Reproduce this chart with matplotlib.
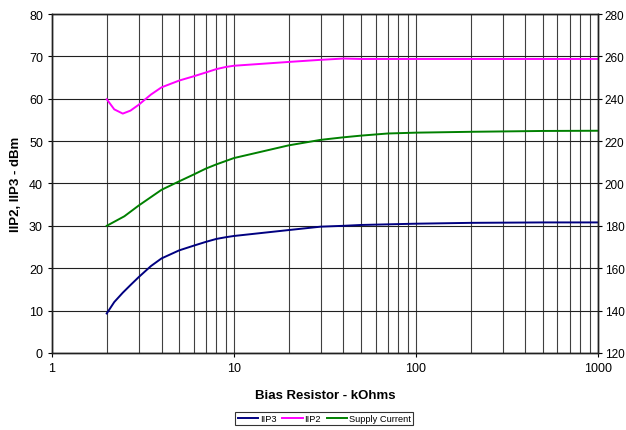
import numpy as np
import matplotlib.pyplot as plt
from matplotlib.ticker import FixedLocator, NullFormatter

plt.rcParams['font.family'] = ['Liberation Sans', 'DejaVu Sans']

# Bias resistor values (kOhms)
r_iip = [2, 2.2, 2.45, 2.7, 3, 3.5, 4, 5, 6, 7, 8, 9, 10, 20, 30, 40, 50, 100, 200, 500, 1000]
iip3 = [9.3, 12.0, 14.2, 16.0, 17.9, 20.5, 22.3, 24.2, 25.3, 26.2, 26.9, 27.3, 27.6, 29.0, 29.8, 30.0, 30.2, 30.5, 30.7, 30.8, 30.8]
iip2 = [59.9, 57.5, 56.5, 57.2, 58.6, 61.0, 62.7, 64.3, 65.3, 66.2, 67.0, 67.5, 67.8, 68.7, 69.2, 69.5, 69.4, 69.4, 69.4, 69.4, 69.4]

r_cur = [2, 2.5, 3, 4, 5, 6, 7, 8, 10, 20, 30, 40, 50, 70, 100, 200, 500, 1000]
supply_current = [180, 184.5, 189.6, 197, 201, 204.2, 207, 209, 212, 218, 220.6, 221.8, 222.6, 223.6, 224, 224.4, 224.8, 224.9]

x_ticks = [1, 10, 100, 1000]
left_ticks = np.arange(0, 81, 10)
right_ticks = np.arange(120, 281, 20)

fig = plt.figure(figsize=(6.26, 4.31), dpi=100)
ax = fig.add_subplot(111)
ax2 = ax.twinx()
fig.subplots_adjust(left=0.083, right=0.955, top=0.965, bottom=0.179)

l1, = ax.plot(r_iip, iip3, color='#000080', lw=1.4, label='IIP3')
l2, = ax.plot(r_iip, iip2, color='#FF00FF', lw=1.4, label='IIP2')
l3, = ax2.plot(r_cur, supply_current, color='#008000', lw=1.4, label='Supply Current')

ax.set_xscale('log')
ax.set_xlim(1, 1000)
ax.set_ylim(0, 80)
ax2.set_ylim(120, 280)

ax.xaxis.set_major_locator(FixedLocator(x_ticks))
ax.set_xticklabels(['1', '10', '100', '1000'])
minor = [m * 10 ** k for k in range(3) for m in range(2, 10)]
ax.xaxis.set_minor_locator(FixedLocator(minor))
ax.xaxis.set_minor_formatter(NullFormatter())
ax.tick_params(axis='x', which='minor', length=0)
ax.set_yticks(left_ticks)
ax2.set_yticks(right_ticks)

ax.grid(True, which='both', axis='x', color='#404040', lw=0.8)
ax.grid(True, which='major', axis='y', color='#202020', lw=0.8)
ax.set_axisbelow(True)

for a in (ax, ax2):
    a.tick_params(axis='both', which='major', labelsize=9, length=3, width=0.8, direction='out', colors='black')
    for s in a.spines.values():
        s.set_color('#202020')
        s.set_linewidth(1.0)
ax2.tick_params(axis='y', labelsize=8.5, pad=2)

ax.set_xlabel('Bias Resistor - kOhms', fontsize=9.5, fontweight='bold', labelpad=11)
ax.set_ylabel('IIP2, IIP3 - dBm', fontsize=9.5, fontweight='bold', labelpad=5)

leg = fig.legend(handles=[l1, l2, l3], loc='lower center', bbox_to_anchor=(0.518, 0.0),
                 ncol=3, fontsize=6.7, frameon=True, fancybox=False, edgecolor='black',
                 handlelength=2.2, handletextpad=0.2, columnspacing=0.6, borderpad=0.25)
leg.get_frame().set_linewidth(0.8)

fig.savefig('out.png', dpi=100)
